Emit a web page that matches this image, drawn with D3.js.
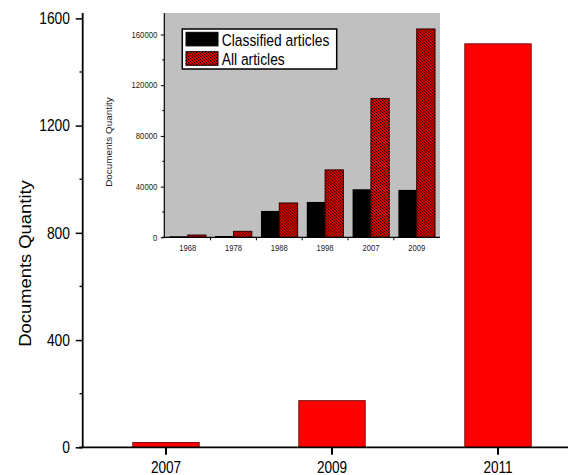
<!DOCTYPE html>
<html>
<head>
<meta charset="utf-8">
<script src="https://cdn.jsdelivr.net/npm/d3@7"></script>
<style>
  body { margin: 0; background: #fff; }
  svg { display: block; font-family: 'Liberation Sans', Arial, sans-serif; }
</style>
</head>
<body>
<div id="chart"></div>
<script>
// main chart data
const mainYears = ['2007', '2009', '2011'];
const mainValues = [18, 174, 1505];
const mainTicks = [0, 400, 800, 1200, 1600];

// inset data
const insetYears = ['1968', '1978', '1988', '1998', '2007', '2009'];
const classifiedValues = [800, 1000, 20800, 27900, 37900, 37400];
const allValues = [1800, 4700, 27100, 53200, 109600, 164400];
const insetTicks = [0, 40000, 80000, 120000, 160000];
const seriesNames = ['Classified articles', 'All articles'];

const width = 569;
const height = 475;
const squeeze = 0.85; // text in the picture is a bit narrow

const svg = d3.select('#chart').append('svg')
  .attr('width', width)
  .attr('height', height);

const defs = svg.append('defs');
const hatch = defs.append('pattern')
  .attr('id', 'hatch')
  .attr('patternUnits', 'userSpaceOnUse')
  .attr('width', 3)
  .attr('height', 3);
hatch.append('rect').attr('width', 3).attr('height', 3).attr('fill', '#e80000');
hatch.append('path')
  .attr('d', 'M-1,-1L4,4M-1,2L1,4M2,-1L4,1')
  .attr('stroke', '#000')
  .attr('stroke-width', 0.9);

// ---------- main chart ----------
const x = d3.scaleBand()
  .domain(mainYears)
  .range([83, 581])
  .paddingInner(0.6)
  .paddingOuter(0.3);

const y = d3.scaleLinear()
  .domain([0, 1620])
  .range([447.3, 13]);

svg.append('g')
  .selectAll('rect')
  .data(mainValues)
  .enter()
  .append('rect')
  .attr('x', (d, i) => x(mainYears[i]))
  .attr('y', d => y(d))
  .attr('width', x.bandwidth())
  .attr('height', d => y(0) - y(d))
  .attr('fill', '#ff0000')
  .attr('stroke', '#7a1010')
  .attr('stroke-width', 1);

// y axis
const yAxis = svg.append('g')
  .attr('transform', 'translate(82.7,0)')
  .call(d3.axisLeft(y).tickValues(mainTicks).tickSize(7).tickFormat(d3.format('d')));
yAxis.select('.domain').remove();
yAxis.selectAll('.tick line').attr('stroke-width', 1.5);
yAxis.selectAll('.tick text')
  .attr('x', -12.7 / squeeze)
  .attr('transform', `scale(${squeeze},1)`)
  .style('font-size', '16.3px')
  .attr('fill', '#000');

svg.append('g')
  .selectAll('line')
  .data(d3.range(200, 1600, 400))
  .enter()
  .append('line')
  .attr('x1', 79.5)
  .attr('x2', 82.7)
  .attr('y1', d => y(d))
  .attr('y2', d => y(d))
  .attr('stroke', '#000')
  .attr('stroke-width', 1.3);

svg.append('line')
  .attr('x1', 82.7).attr('x2', 82.7)
  .attr('y1', 13).attr('y2', 447.3)
  .attr('stroke', '#000')
  .attr('stroke-width', 1.8);

// x axis
const xAxis = svg.append('g')
  .attr('transform', 'translate(0,447.3)')
  .call(d3.axisBottom(x).tickSize(7.5).tickPadding(4));
xAxis.select('.domain').remove();
xAxis.selectAll('.tick line').attr('stroke-width', 2);
xAxis.selectAll('.tick text')
  .attr('y', 0)
  .attr('dy', 0)
  .attr('transform', `translate(0,25.4) scale(${squeeze},1)`)
  .style('font-size', '16px')
  .attr('fill', '#000');

svg.append('line')
  .attr('x1', 79).attr('x2', 568)
  .attr('y1', 447.3).attr('y2', 447.3)
  .attr('stroke', '#000')
  .attr('stroke-width', 1.8);

svg.append('text')
  .attr('transform', `translate(31,263.5) rotate(-90) scale(1,${squeeze})`)
  .attr('text-anchor', 'middle')
  .style('font-size', '18.4px')
  .text('Documents Quantity');

// ---------- inset ----------
const ix = d3.scaleBand()
  .domain(insetYears)
  .range([164.8, 439.6]);

const ix2 = d3.scaleBand()
  .domain(seriesNames)
  .range([0, ix.bandwidth()])
  .paddingOuter(0.25);

const iy = d3.scaleLinear()
  .domain([0, 177000])
  .range([237.3, 13]);

svg.append('rect')
  .attr('x', 164.3)
  .attr('y', 13)
  .attr('width', 440 - 164.3)
  .attr('height', 237.3 - 13)
  .attr('fill', '#c0c0c0');

const inset = svg.append('g');

const insetRows = insetYears.map((yr, i) => ({
  year: yr,
  values: [classifiedValues[i], allValues[i]]
}));

inset.selectAll('g.group')
  .data(insetRows)
  .enter()
  .append('g')
  .attr('class', 'group')
  .attr('transform', d => `translate(${ix(d.year)},0)`)
  .selectAll('rect')
  .data(d => d.values)
  .enter()
  .append('rect')
  .attr('x', (d, i) => ix2(seriesNames[i]))
  .attr('y', d => iy(d))
  .attr('width', ix2.bandwidth())
  .attr('height', d => iy(0) - iy(d))
  .attr('fill', (d, i) => i === 0 ? '#000' : 'url(#hatch)')
  .attr('stroke', (d, i) => i === 0 ? 'none' : '#300')
  .attr('stroke-width', 1);

// inset y axis
const iyAxis = svg.append('g')
  .attr('transform', 'translate(164.3,0)')
  .call(d3.axisLeft(iy).tickValues(insetTicks).tickSize(3.5).tickFormat(d3.format('d')));
iyAxis.select('.domain').remove();
iyAxis.selectAll('.tick text')
  .attr('x', -7 / 0.9)
  .attr('transform', 'scale(0.9,1)')
  .style('font-size', '8.6px')
  .attr('fill', '#222');

svg.append('g')
  .selectAll('line')
  .data(d3.range(20000, 177000, 40000))
  .enter()
  .append('line')
  .attr('x1', 162.3)
  .attr('x2', 164.3)
  .attr('y1', d => iy(d))
  .attr('y2', d => iy(d))
  .attr('stroke', '#000');

svg.append('line')
  .attr('x1', 164.3).attr('x2', 164.3)
  .attr('y1', 13).attr('y2', 237.3)
  .attr('stroke', '#000')
  .attr('stroke-width', 1.2);

// inset x axis
const ixAxis = svg.append('g')
  .attr('transform', 'translate(0,237.3)');
ixAxis.append('line')
  .attr('x1', 162).attr('x2', 440)
  .attr('stroke', '#000')
  .attr('stroke-width', 1.2);
ixAxis.selectAll('line.tk')
  .data(insetYears.slice(1))
  .enter()
  .append('line')
  .attr('class', 'tk')
  .attr('x1', d => ix(d))
  .attr('x2', d => ix(d))
  .attr('y1', 0)
  .attr('y2', 3)
  .attr('stroke', '#000');
ixAxis.selectAll('text')
  .data(insetYears)
  .enter()
  .append('text')
  .attr('transform', d => `translate(${ix(d) + ix.bandwidth() / 2},13.4) scale(${squeeze},1)`)
  .attr('text-anchor', 'middle')
  .style('font-size', '9px')
  .attr('fill', '#222')
  .text(d => d);

svg.append('text')
  .attr('transform', `translate(112,142) rotate(-90) scale(1,${squeeze})`)
  .attr('text-anchor', 'middle')
  .style('font-size', '9.9px')
  .attr('fill', '#222')
  .text('Documents Quantity');

// legend
const legend = svg.append('g');
legend.append('rect')
  .attr('x', 182.3)
  .attr('y', 29)
  .attr('width', 154.4)
  .attr('height', 40)
  .attr('fill', '#fff')
  .attr('stroke', '#000')
  .attr('stroke-width', 1.5);

legend.selectAll('rect.sw')
  .data(seriesNames)
  .enter()
  .append('rect')
  .attr('class', 'sw')
  .attr('x', 186)
  .attr('y', (d, i) => 32.3 + i * 19.4)
  .attr('width', 32)
  .attr('height', 13.6)
  .attr('fill', (d, i) => i === 0 ? '#000' : 'url(#hatch)')
  .attr('stroke', '#000')
  .attr('stroke-width', 1);

legend.selectAll('text')
  .data(seriesNames)
  .enter()
  .append('text')
  .attr('transform', (d, i) => `translate(221.7,${45.5 + i * 19}) scale(${squeeze},1)`)
  .style('font-size', '16.3px')
  .text(d => d);
</script>
</body>
</html>
